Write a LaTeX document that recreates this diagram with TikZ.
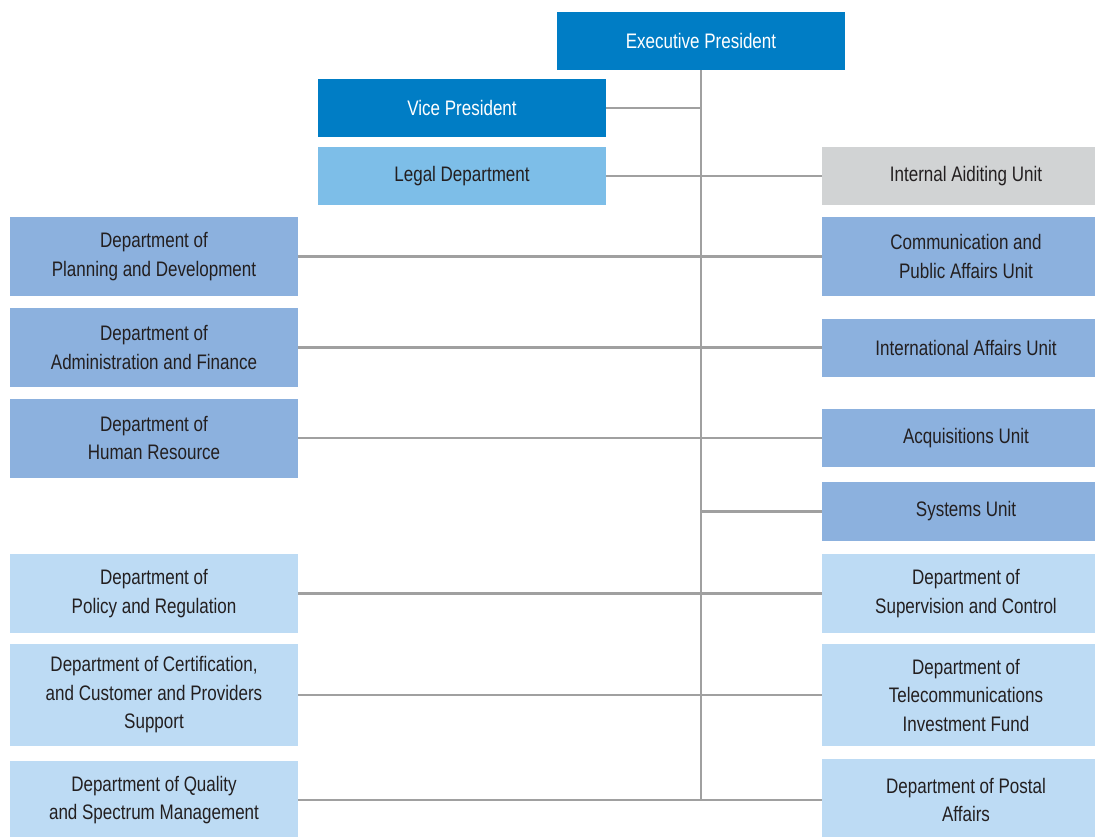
\documentclass[tikz,border=0pt]{standalone}
\usepackage{fontspec}
\setmainfont{Liberation Sans}[FakeStretch=0.81]
\usepackage{tikz}

\definecolor{topblue}{RGB}{0,125,197}
\definecolor{legalblue}{RGB}{125,190,232}
\definecolor{auditgrey}{RGB}{209,211,212}
\definecolor{unitblue}{RGB}{140,177,222}
\definecolor{deptblue}{RGB}{189,219,244}
\definecolor{linkgrey}{RGB}{160,160,160}
\definecolor{inkdark}{RGB}{35,31,32}

\tikzset{
  box/.style={inner sep=0pt, align=center, text=inkdark, minimum width=288pt,
              font=\fontsize{21}{28.5}\selectfont},
  link/.style={draw=linkgrey, line width=2.8pt}
}

\begin{document}
\begin{tikzpicture}[x=1pt, y=-1pt]
  \useasboundingbox (0,0) rectangle (1095,836);
  % head
  \node[box, fill=topblue, text=white, minimum height=58pt] (exec) at (701,41) {Executive President};
  \node[box, fill=topblue, text=white, minimum height=58pt] (vice) at (462,108) {Vice President};
  \node[box, fill=legalblue, minimum height=58pt] (legal) at (462,176) {Legal Department};
  % left column
  \node[box, fill=unitblue, minimum height=79pt] (plan) at (154,256.5) {Department of\\Planning and Development};
  \node[box, fill=unitblue, minimum height=79pt] (admin) at (154,347.5) {Department of\\Administration and Finance};
  \node[box, fill=unitblue, minimum height=79pt] (human) at (154,438) {Department of\\Human Resource};
  \node[box, fill=deptblue, minimum height=79pt] (policy) at (154,593.5) {Department of\\Policy and Regulation};
  \node[box, fill=deptblue, minimum height=102pt] (certif) at (154,695) {Department of Certification,\\and Customer and Providers\\Support};
  \node[box, fill=deptblue, minimum height=78pt] (quality) at (154,800) {Department of Quality\\and Spectrum Management};
  % right column (boxes run past the page edge)
  \node[box, fill=auditgrey, minimum height=58pt] (audit) at (966,176) {Internal Aiditing Unit};
  \node[box, fill=unitblue, minimum height=79pt] (comm) at (966,256.5) {Communication and\\Public Affairs Unit};
  \node[box, fill=unitblue, minimum height=58pt] (intl) at (966,347.5) {International Affairs Unit};
  \node[box, fill=unitblue, minimum height=58pt] (acq) at (966,438) {Acquisitions Unit};
  \node[box, fill=unitblue, minimum height=59pt] (systems) at (966,511.5) {Systems Unit};
  \node[box, fill=deptblue, minimum height=79pt] (superv) at (966,593.5) {Department of\\Supervision and Control};
  \node[box, fill=deptblue, minimum height=102pt] (fund) at (966,695) {Department of\\Telecommunications\\Investment Fund};
  \node[box, fill=deptblue, minimum height=82pt] (postal) at (966,800) {Department of Postal\\Affairs};
  % connectors
  \draw[link] (exec.south) -- (exec.south |- quality.east);
  \draw[link] (vice.east) -- (vice.east -| exec.south);
  \draw[link] (legal.east) -- (audit.west);
  \draw[link] (plan.east) -- (plan.east -| comm.west);
  \draw[link] (admin.east) -- (admin.east -| intl.west);
  \draw[link] (human.east) -- (human.east -| acq.west);
  \draw[link] (systems.west -| exec.south) -- (systems.west);
  \draw[link] (policy.east) -- (superv.west);
  \draw[link] (certif.east) -- (fund.west);
  \draw[link] (quality.east) -- (postal.west);
\end{tikzpicture}
\end{document}
